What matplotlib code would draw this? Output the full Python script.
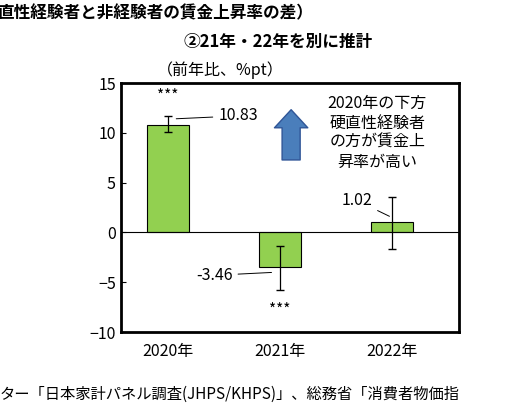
import matplotlib.pyplot as plt
import numpy as np

plt.rcParams['font.family'] = ['Noto Sans CJK JP', 'DejaVu Sans']

years = ['2020年', '2021年', '2022年']
values = [10.83, -3.46, 1.02]
err_low = [10.1, -5.8, -1.7]
err_high = [11.7, -1.4, 3.6]
labels = ['10.83', '-3.46', '1.02']
stars = ['***', '***', '']

fig = plt.figure(figsize=(5.23, 4.11), dpi=100)
ax = fig.add_axes([0.231, 0.192, 0.647, 0.606])
x = np.arange(len(years))
yerr = [np.array(values) - np.array(err_low), np.array(err_high) - np.array(values)]
ax.bar(x, values, width=0.38, color='#92d050', edgecolor='black', linewidth=0.8, zorder=2)
ax.errorbar(x, values, yerr=yerr, fmt='none', ecolor='black', elinewidth=0.9, capsize=3, zorder=3)
ax.axhline(0, color='black', linewidth=0.8)
ax.set_xlim(-0.42, 2.6)
ax.set_ylim(-10, 15)
ax.set_yticks(range(-10, 16, 5))
ax.set_xticks(x)
ax.set_xticklabels(years, fontsize=11.5)
ax.tick_params(axis='y', direction='in', labelsize=11.5)
ax.tick_params(axis='x', length=0, pad=8)
for s in ax.spines.values():
    s.set_linewidth(2)

# value labels with leader lines
ax.annotate(labels[0], xy=(0.05, 11.4), xytext=(0.45, 11.7), fontsize=11.5, va='center',
            arrowprops=dict(arrowstyle='-', color='black', lw=0.7))
ax.annotate(labels[1], xy=(0.95, -4.0), xytext=(0.25, -4.3), fontsize=11.5, va='center',
            arrowprops=dict(arrowstyle='-', color='black', lw=0.7))
ax.annotate(labels[2], xy=(2.0, 1.5), xytext=(1.55, 3.2), fontsize=11.5, va='center',
            arrowprops=dict(arrowstyle='-', color='black', lw=0.7))
ax.text(0, 13.2, stars[0], ha='center', fontsize=11)
ax.text(1, -8.3, stars[1], ha='center', fontsize=11)

ax.annotate('', xy=(1.1, 12.6), xytext=(1.1, 7.0),
            arrowprops=dict(arrowstyle='simple,head_width=2.4,head_length=1.3,tail_width=1.3',
                            facecolor='#4a7ebb', edgecolor='#2f5597'))
ax.text(1.87, 10.0, '2020年の下方\n硬直性経験者\nの方が賃金上\n昇率が高い', ha='center', va='center',
        fontsize=11.5, linespacing=1.2)

fig.text(0.30, 0.818, '（前年比、%pt）', fontsize=11.5)
fig.text(-0.005, 0.955, '直性経験者と非経験者の賃金上昇率の差）', fontsize=12, fontweight='bold')
fig.text(0.35, 0.885, '②21年・22年を別に推計', fontsize=12, fontweight='bold')
fig.text(0.0, 0.03, 'ター「日本家計パネル調査(JHPS/KHPS)」、総務省「消費者物価指', fontsize=11)

fig.savefig('out.png', dpi=100)
